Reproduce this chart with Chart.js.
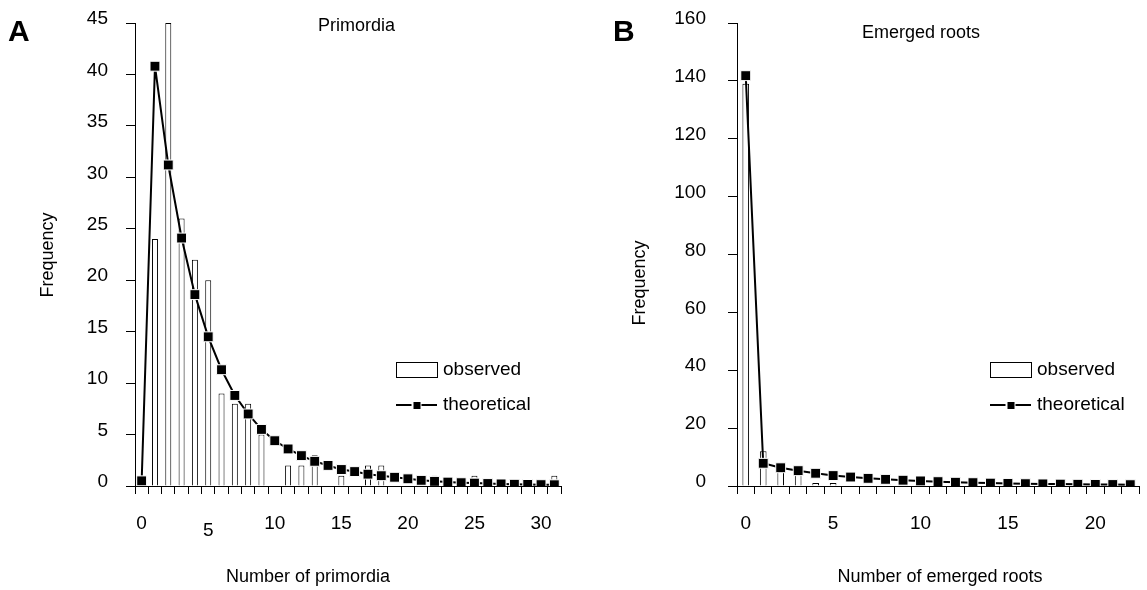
<!DOCTYPE html>
<html>
<head>
<meta charset="utf-8">
<title>Primordia and emerged roots</title>
<script src="https://cdn.jsdelivr.net/npm/chart.js@4.4.1/dist/chart.umd.min.js"></script>
<style>
    html, body { margin: 0; padding: 0; background: #fff; }
    body { width: 1147px; height: 590px; position: relative; overflow: hidden; }
    .panel { position: absolute; top: 0; height: 590px; }
    #panelA { left: 0; width: 580px; }
    #panelB { left: 580px; width: 567px; }
</style>
</head>
<body>
<div class="panel" id="panelA"><canvas id="chartA"></canvas></div>
<div class="panel" id="panelB"><canvas id="chartB"></canvas></div>
<script>
// panel A - number of primordia
const primordiaCounts = [0, 1, 2, 3, 4, 5, 6, 7, 8, 9, 10, 11, 12, 13, 14, 15, 16, 17, 18, 19, 20, 21, 22, 23, 24, 25, 26, 27, 28, 29, 30, 31];
const primordiaObserved = [0, 24, 45, 26, 22, 20, 9, 8, 8, 5, 0, 2, 2, 3, 0, 1, 0, 2, 2, 0, 0, 0, 1, 0, 0, 1, 0, 0, 0, 0, 0, 1];
const primordiaTheoretical = [0.5, 40.8, 31.2, 24.1, 18.6, 14.5, 11.3, 8.8, 7.0, 5.5, 4.4, 3.6, 2.95, 2.4, 2.0, 1.6, 1.4, 1.15, 1.0, 0.85, 0.7, 0.55, 0.45, 0.38, 0.32, 0.28, 0.24, 0.2, 0.17, 0.15, 0.13, 0.12];
const primordiaYMax = 45;
const primordiaYStep = 5;

// panel B - number of emerged roots
const rootCounts = [0, 1, 2, 3, 4, 5, 6, 7, 8, 9, 10, 11, 12, 13, 14, 15, 16, 17, 18, 19, 20, 21, 22];
const rootObserved = [139, 12, 5, 4, 1, 1, 0, 0, 0, 0, 0, 0, 0, 0, 0, 0, 0, 0, 0, 0, 0, 0, 0];
const rootTheoretical = [141.8, 7.85, 6.3, 5.3, 4.4, 3.6, 3.1, 2.65, 2.3, 2.0, 1.75, 1.5, 1.3, 1.15, 1.0, 0.9, 0.8, 0.72, 0.65, 0.6, 0.55, 0.5, 0.45];
const rootYMax = 160;
const rootYStep = 20;

const xTickEvery = 5;
const FONT = '"Liberation Sans", Arial, Helvetica, sans-serif';

Chart.defaults.font.family = FONT;
Chart.defaults.color = "#000";

// letters, titles, axis names and the little legend
const panelText = {
    id: "panelText",
    afterDraw(chart, args, o) {
        const ctx = chart.ctx;
        const line = chart.data.datasets[0];
        const bar = chart.data.datasets[1];
        ctx.save();
        ctx.fillStyle = "#000";
        ctx.textBaseline = "middle";
        ctx.textAlign = "left";
        ctx.font = "bold 30px " + FONT;
        ctx.fillText(o.letter, o.letterX, 33);

        ctx.font = "18px " + FONT;
        ctx.fillText(o.title, o.titleX, o.titleY);

        ctx.textAlign = "center";
        ctx.fillText(o.xTitle, o.xTitleX, 577);

        ctx.save();
        ctx.translate(o.yTitleX, o.yTitleY);
        ctx.rotate(-Math.PI / 2);
        ctx.fillText(o.yTitle, 0, 0);
        ctx.restore();

        // legend
        const lx = o.legendX, ly = 362, w = 41;
        ctx.strokeStyle = "#000";
        ctx.lineWidth = 1;
        ctx.fillStyle = bar.backgroundColor;
        ctx.fillRect(lx, ly, w, 15);
        ctx.strokeRect(lx + 0.5, ly + 0.5, w, 15);
        ctx.beginPath();
        ctx.lineWidth = line.borderWidth;
        ctx.moveTo(lx, ly + 43);
        ctx.lineTo(lx + w, ly + 43);
        ctx.stroke();
        ctx.fillStyle = "#fff";
        ctx.fillRect(lx + w / 2 - 5, ly + 43 - 4, 10, 8);
        ctx.fillStyle = "#000";
        ctx.fillRect(lx + w / 2 - 3, ly + 43 - 3, 7, 7);
        ctx.textAlign = "left";
        ctx.font = "19px " + FONT;
        ctx.fillText(bar.label, lx + w + 6, ly + 8);
        ctx.fillText(line.label, lx + w + 6, ly + 43);
        ctx.restore();
    }
};

function makeChart(canvasId, cfg) {
    return new Chart(document.getElementById(canvasId), {
        type: "bar",
        data: {
            labels: cfg.labels,
            datasets: [{
                type: "line",
                label: "theoretical",
                data: cfg.theoretical,
                borderColor: "#000",
                borderWidth: 2,
                tension: 0,
                pointStyle: "rect",
                pointRadius: 7,
                pointBackgroundColor: "#000",
                pointBorderColor: "#fff",
                pointBorderWidth: 1,
                order: 1
            }, {
                type: "bar",
                label: "observed",
                data: cfg.observed,
                backgroundColor: "#fff",
                borderColor: "#000",
                borderWidth: 1,
                barPercentage: cfg.barPercentage,
                categoryPercentage: 1,
                order: 2
            }]
        },
        options: {
            responsive: true,
            maintainAspectRatio: false,
            animation: false,
            devicePixelRatio: 1,
            layout: { padding: { left: 0, right: cfg.padRight, top: 23, bottom: 0 } },
            plugins: {
                legend: { display: false },
                tooltip: { enabled: false },
                panelText: cfg.text
            },
            scales: {
                x: {
                    offset: true,
                    grid: { offset: true, drawOnChartArea: false, tickLength: 8, tickColor: "#000" },
                    border: { color: "#000", width: 1 },
                    ticks: {
                        autoSkip: false,
                        maxRotation: 0,
                        padding: 18,
                        // the "5" in panel A sits a little lower in the original
                        font: c => ({ size: 19, lineHeight: cfg.lowTick !== undefined && c.index === cfg.lowTick ? 1.95 : 1.2 }),
                        color: "#000",
                        callback(value) {
                            const c = this.getLabelForValue(value);
                            return Number(c) % xTickEvery === 0 ? String(c) : "";
                        }
                    },
                    afterFit(scale) {
                        scale.height = 104;
                        scale.paddingLeft = 0;
                        scale.paddingRight = 0;
                    }
                },
                y: {
                    min: 0,
                    max: cfg.yMax,
                    grid: { drawOnChartArea: false, tickLength: 9, tickColor: "#000" },
                    border: { color: "#000", width: 1 },
                    ticks: { stepSize: cfg.yStep, padding: cfg.yPad, labelOffset: -4, font: { size: 19 }, color: "#000" },
                    afterFit(scale) {
                        scale.width = cfg.yWidth;
                        scale.paddingTop = 0;
                        scale.paddingBottom = 0;
                    }
                }
            }
        },
        plugins: [panelText]
    });
}

makeChart("chartA", {
    labels: primordiaCounts,
    observed: primordiaObserved,
    theoretical: primordiaTheoretical,
    yMax: primordiaYMax,
    yStep: primordiaYStep,
    yWidth: 135,
    yPad: 18,
    padRight: 19,
    barPercentage: 0.45,
    lowTick: 5,
    text: {
        letter: "A", letterX: 8,
        title: "Primordia", titleX: 318, titleY: 26,
        xTitle: "Number of primordia", xTitleX: 308,
        yTitle: "Frequency", yTitleX: 48, yTitleY: 255,
        legendX: 396
    }
});

makeChart("chartB", {
    labels: rootCounts,
    observed: rootObserved,
    theoretical: rootTheoretical,
    yMax: rootYMax,
    yStep: rootYStep,
    yWidth: 157,
    yPad: 22,
    padRight: 2,
    barPercentage: 0.38,
    text: {
        letter: "B", letterX: 33,
        title: "Emerged roots", titleX: 282, titleY: 33,
        xTitle: "Number of emerged roots", xTitleX: 360,
        yTitle: "Frequency", yTitleX: 60, yTitleY: 283,
        legendX: 410
    }
});
</script>
</body>
</html>
